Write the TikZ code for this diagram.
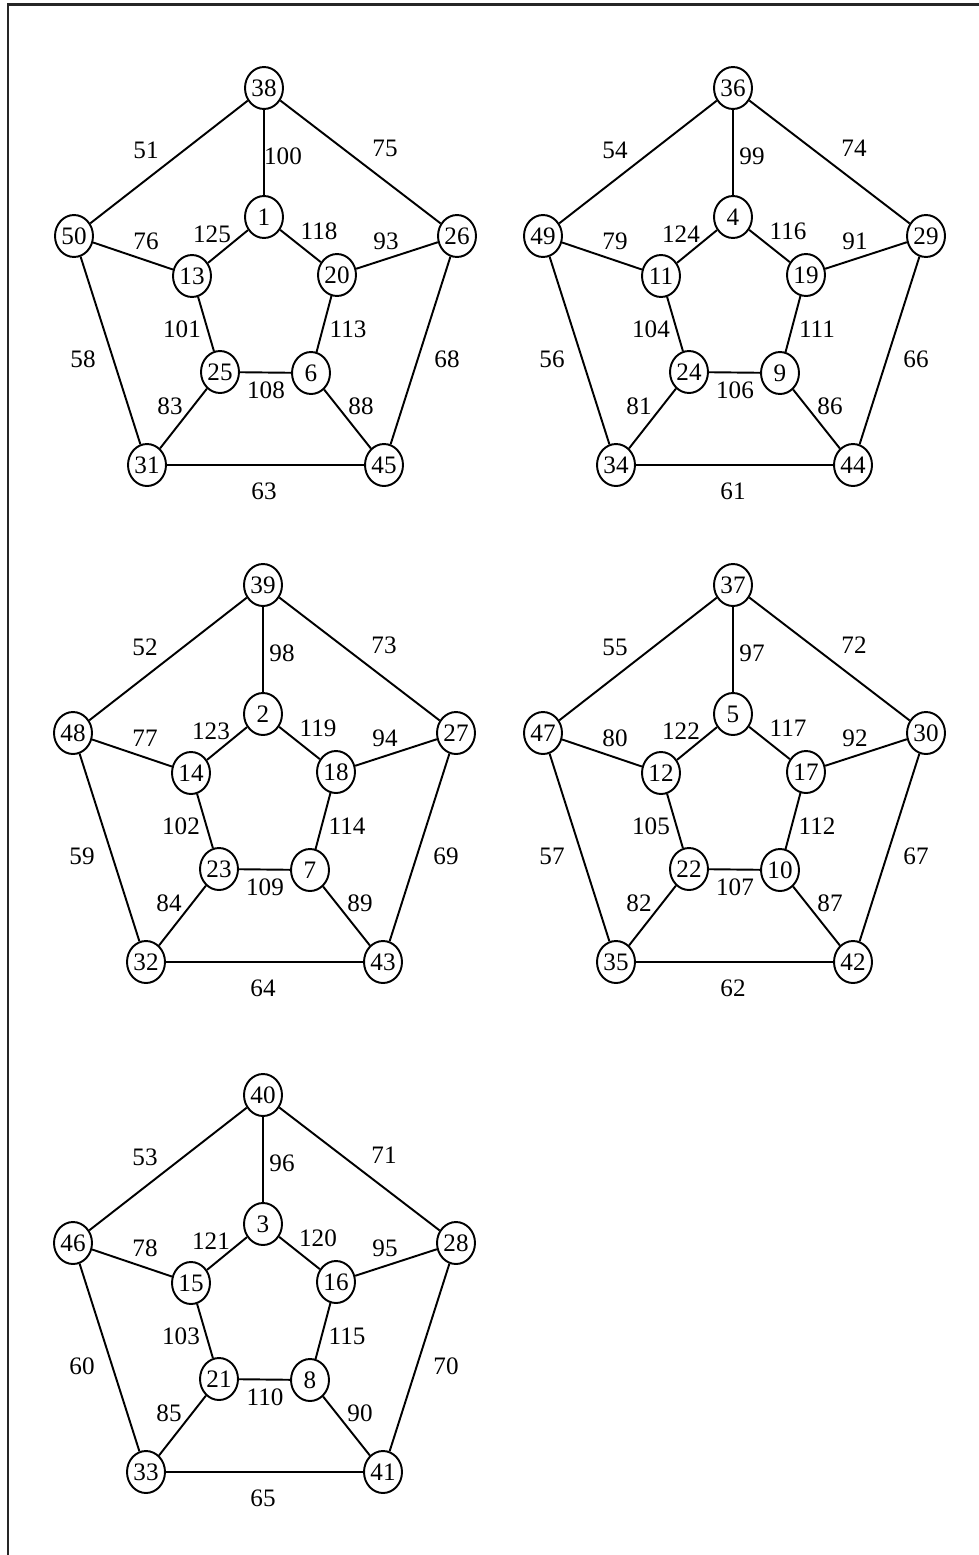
\documentclass[tikz,border=0pt]{standalone}
\usepackage{fontspec}
\setmainfont{Liberation Serif}
\usetikzlibrary{shapes.geometric}
\tikzset{
  vertex/.style={draw, ellipse, minimum width=7.6mm, minimum height=8.4mm,
                 inner sep=0pt, line width=1.1pt, fill=white},
  wlabel/.style={inner sep=0pt},
  edge/.style={line width=1.1pt},
  frame/.style={line width=1.3pt, draw=black!85},
}

\begin{document}
\begin{tikzpicture}[x=0.02cm, y=-0.02cm, font=\fontsize{14.3}{17}\selectfont]
    \useasboundingbox (0,0) rectangle (979,1555);
    \draw[frame] (979,4.5) -- (8.3,4.5) -- (8.3,1555);

    % graph 1
    \begin{scope}[shift={(264,88)}]
      \node[vertex] (v38) at (0,0) {38};
      \node[vertex] (v50) at (-190,148) {50};
      \node[vertex] (v26) at (193,148) {26};
      \node[vertex] (v1) at (0,129) {1};
      \node[vertex] (v13) at (-72,188) {13};
      \node[vertex] (v20) at (73,187) {20};
      \node[vertex] (v25) at (-44,284) {25};
      \node[vertex] (v6) at (47,285) {6};
      \node[vertex] (v31) at (-117,377) {31};
      \node[vertex] (v45) at (120,377) {45};
      \draw[edge] (v38) -- (v50) -- (v31) -- (v45) -- (v26) -- (v38);
      \draw[edge] (v1) -- (v13) -- (v25) -- (v6) -- (v20) -- (v1);
      \draw[edge] (v38) -- (v1);
      \draw[edge] (v50) -- (v13);
      \draw[edge] (v26) -- (v20);
      \draw[edge] (v31) -- (v25);
      \draw[edge] (v45) -- (v6);
      \node[wlabel] (w51) at (-118,62) {51};
      \node[wlabel] (w100) at (19,68) {100};
      \node[wlabel] (w75) at (121,60) {75};
      \node[wlabel] (w76) at (-118,153) {76};
      \node[wlabel] (w125) at (-52,146) {125};
      \node[wlabel] (w118) at (55,143) {118};
      \node[wlabel] (w93) at (122,153) {93};
      \node[wlabel] (w101) at (-82,241) {101};
      \node[wlabel] (w113) at (84,241) {113};
      \node[wlabel] (w58) at (-181,271) {58};
      \node[wlabel] (w68) at (183,271) {68};
      \node[wlabel] (w108) at (2,302) {108};
      \node[wlabel] (w83) at (-94,318) {83};
      \node[wlabel] (w88) at (97,318) {88};
      \node[wlabel] (w63) at (0,403) {63};
    \end{scope}

    % graph 2
    \begin{scope}[shift={(733,88)}]
      \node[vertex] (v36) at (0,0) {36};
      \node[vertex] (v49) at (-190,148) {49};
      \node[vertex] (v29) at (193,148) {29};
      \node[vertex] (v4) at (0,129) {4};
      \node[vertex] (v11) at (-72,188) {11};
      \node[vertex] (v19) at (73,187) {19};
      \node[vertex] (v24) at (-44,284) {24};
      \node[vertex] (v9) at (47,285) {9};
      \node[vertex] (v34) at (-117,377) {34};
      \node[vertex] (v44) at (120,377) {44};
      \draw[edge] (v36) -- (v49) -- (v34) -- (v44) -- (v29) -- (v36);
      \draw[edge] (v4) -- (v11) -- (v24) -- (v9) -- (v19) -- (v4);
      \draw[edge] (v36) -- (v4);
      \draw[edge] (v49) -- (v11);
      \draw[edge] (v29) -- (v19);
      \draw[edge] (v34) -- (v24);
      \draw[edge] (v44) -- (v9);
      \node[wlabel] (w54) at (-118,62) {54};
      \node[wlabel] (w99) at (19,68) {99};
      \node[wlabel] (w74) at (121,60) {74};
      \node[wlabel] (w79) at (-118,153) {79};
      \node[wlabel] (w124) at (-52,146) {124};
      \node[wlabel] (w116) at (55,143) {116};
      \node[wlabel] (w91) at (122,153) {91};
      \node[wlabel] (w104) at (-82,241) {104};
      \node[wlabel] (w111) at (84,241) {111};
      \node[wlabel] (w56) at (-181,271) {56};
      \node[wlabel] (w66) at (183,271) {66};
      \node[wlabel] (w106) at (2,302) {106};
      \node[wlabel] (w81) at (-94,318) {81};
      \node[wlabel] (w86) at (97,318) {86};
      \node[wlabel] (w61) at (0,403) {61};
    \end{scope}

    % graph 3
    \begin{scope}[shift={(263,585)}]
      \node[vertex] (v39) at (0,0) {39};
      \node[vertex] (v48) at (-190,148) {48};
      \node[vertex] (v27) at (193,148) {27};
      \node[vertex] (v2) at (0,129) {2};
      \node[vertex] (v14) at (-72,188) {14};
      \node[vertex] (v18) at (73,187) {18};
      \node[vertex] (v23) at (-44,284) {23};
      \node[vertex] (v7) at (47,285) {7};
      \node[vertex] (v32) at (-117,377) {32};
      \node[vertex] (v43) at (120,377) {43};
      \draw[edge] (v39) -- (v48) -- (v32) -- (v43) -- (v27) -- (v39);
      \draw[edge] (v2) -- (v14) -- (v23) -- (v7) -- (v18) -- (v2);
      \draw[edge] (v39) -- (v2);
      \draw[edge] (v48) -- (v14);
      \draw[edge] (v27) -- (v18);
      \draw[edge] (v32) -- (v23);
      \draw[edge] (v43) -- (v7);
      \node[wlabel] (w52) at (-118,62) {52};
      \node[wlabel] (w98) at (19,68) {98};
      \node[wlabel] (w73) at (121,60) {73};
      \node[wlabel] (w77) at (-118,153) {77};
      \node[wlabel] (w123) at (-52,146) {123};
      \node[wlabel] (w119) at (55,143) {119};
      \node[wlabel] (w94) at (122,153) {94};
      \node[wlabel] (w102) at (-82,241) {102};
      \node[wlabel] (w114) at (84,241) {114};
      \node[wlabel] (w59) at (-181,271) {59};
      \node[wlabel] (w69) at (183,271) {69};
      \node[wlabel] (w109) at (2,302) {109};
      \node[wlabel] (w84) at (-94,318) {84};
      \node[wlabel] (w89) at (97,318) {89};
      \node[wlabel] (w64) at (0,403) {64};
    \end{scope}

    % graph 4
    \begin{scope}[shift={(733,585)}]
      \node[vertex] (v37) at (0,0) {37};
      \node[vertex] (v47) at (-190,148) {47};
      \node[vertex] (v30) at (193,148) {30};
      \node[vertex] (v5) at (0,129) {5};
      \node[vertex] (v12) at (-72,188) {12};
      \node[vertex] (v17) at (73,187) {17};
      \node[vertex] (v22) at (-44,284) {22};
      \node[vertex] (v10) at (47,285) {10};
      \node[vertex] (v35) at (-117,377) {35};
      \node[vertex] (v42) at (120,377) {42};
      \draw[edge] (v37) -- (v47) -- (v35) -- (v42) -- (v30) -- (v37);
      \draw[edge] (v5) -- (v12) -- (v22) -- (v10) -- (v17) -- (v5);
      \draw[edge] (v37) -- (v5);
      \draw[edge] (v47) -- (v12);
      \draw[edge] (v30) -- (v17);
      \draw[edge] (v35) -- (v22);
      \draw[edge] (v42) -- (v10);
      \node[wlabel] (w55) at (-118,62) {55};
      \node[wlabel] (w97) at (19,68) {97};
      \node[wlabel] (w72) at (121,60) {72};
      \node[wlabel] (w80) at (-118,153) {80};
      \node[wlabel] (w122) at (-52,146) {122};
      \node[wlabel] (w117) at (55,143) {117};
      \node[wlabel] (w92) at (122,153) {92};
      \node[wlabel] (w105) at (-82,241) {105};
      \node[wlabel] (w112) at (84,241) {112};
      \node[wlabel] (w57) at (-181,271) {57};
      \node[wlabel] (w67) at (183,271) {67};
      \node[wlabel] (w107) at (2,302) {107};
      \node[wlabel] (w82) at (-94,318) {82};
      \node[wlabel] (w87) at (97,318) {87};
      \node[wlabel] (w62) at (0,403) {62};
    \end{scope}

    % graph 5
    \begin{scope}[shift={(263,1095)}]
      \node[vertex] (v40) at (0,0) {40};
      \node[vertex] (v46) at (-190,148) {46};
      \node[vertex] (v28) at (193,148) {28};
      \node[vertex] (v3) at (0,129) {3};
      \node[vertex] (v15) at (-72,188) {15};
      \node[vertex] (v16) at (73,187) {16};
      \node[vertex] (v21) at (-44,284) {21};
      \node[vertex] (v8) at (47,285) {8};
      \node[vertex] (v33) at (-117,377) {33};
      \node[vertex] (v41) at (120,377) {41};
      \draw[edge] (v40) -- (v46) -- (v33) -- (v41) -- (v28) -- (v40);
      \draw[edge] (v3) -- (v15) -- (v21) -- (v8) -- (v16) -- (v3);
      \draw[edge] (v40) -- (v3);
      \draw[edge] (v46) -- (v15);
      \draw[edge] (v28) -- (v16);
      \draw[edge] (v33) -- (v21);
      \draw[edge] (v41) -- (v8);
      \node[wlabel] (w53) at (-118,62) {53};
      \node[wlabel] (w96) at (19,68) {96};
      \node[wlabel] (w71) at (121,60) {71};
      \node[wlabel] (w78) at (-118,153) {78};
      \node[wlabel] (w121) at (-52,146) {121};
      \node[wlabel] (w120) at (55,143) {120};
      \node[wlabel] (w95) at (122,153) {95};
      \node[wlabel] (w103) at (-82,241) {103};
      \node[wlabel] (w115) at (84,241) {115};
      \node[wlabel] (w60) at (-181,271) {60};
      \node[wlabel] (w70) at (183,271) {70};
      \node[wlabel] (w110) at (2,302) {110};
      \node[wlabel] (w85) at (-94,318) {85};
      \node[wlabel] (w90) at (97,318) {90};
      \node[wlabel] (w65) at (0,403) {65};
    \end{scope}
  \end{tikzpicture}
\end{document}
